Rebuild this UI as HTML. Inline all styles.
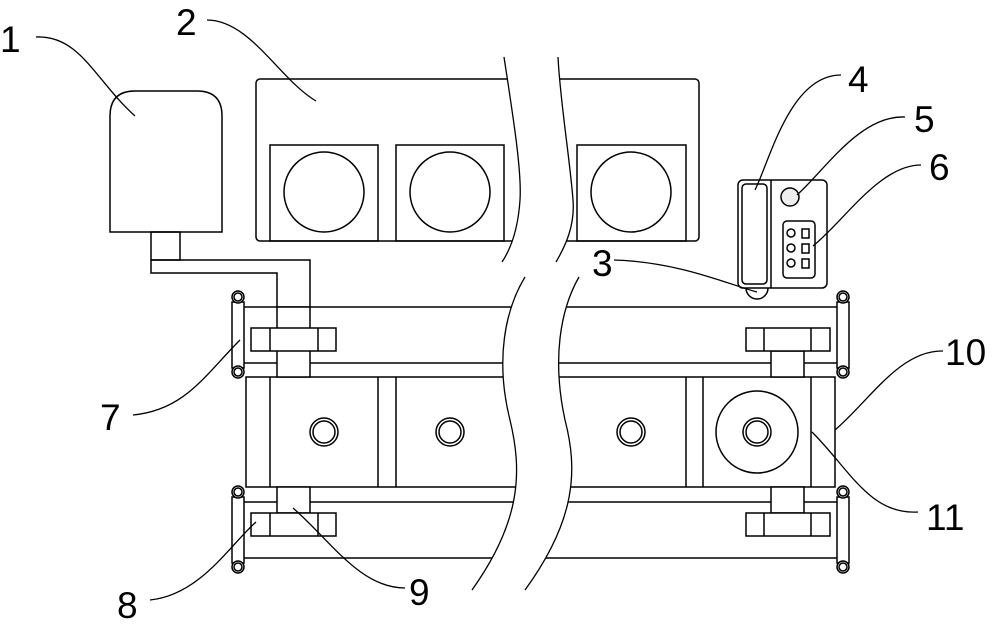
<!DOCTYPE html>
<html><head><style>
html,body{margin:0;padding:0;background:#fff;}
svg{display:block;}
text{font-family:"Liberation Sans",sans-serif;font-size:37px;fill:#000;}
</style></head><body>
<svg width="1000" height="624" viewBox="0 0 1000 624" xmlns="http://www.w3.org/2000/svg">
<g fill="none" stroke="#000" stroke-width="1.5">
<!-- tank 1 -->
<path d="M110,232 V116 Q110,91 135,91 H197 Q222,91 222,116 V232 Z"/>
<rect x="151" y="232" width="29" height="28"/>
<path d="M151,260 H310 V307 M151,260 V273 H277 V307"/>
<!-- panel 2 -->
<rect x="256" y="79" width="443" height="162" rx="4"/>
<rect x="270" y="145" width="108" height="96"/>
<rect x="396" y="145" width="108" height="96"/>
<rect x="577" y="145" width="109" height="96"/>
<circle cx="324" cy="192" r="40"/>
<circle cx="450" cy="192" r="40"/>
<circle cx="631" cy="192" r="40"/>
<!-- phone device -->
<rect x="738" y="180" width="89" height="108" rx="5"/>
<line x1="771" y1="180" x2="771" y2="288"/>
<rect x="742" y="184" width="25" height="100" rx="4"/>
<path d="M746,288 A11,11 0 0 0 768,288"/>
<circle cx="790" cy="197" r="9" fill="#eee" stroke-dasharray="none"/>
<rect x="783" y="221" width="32" height="57" rx="4"/>
<circle cx="791" cy="233" r="4"/><circle cx="791" cy="248" r="4"/><circle cx="791" cy="263" r="4"/>
<rect x="802" y="229" width="7" height="9"/><rect x="802" y="244" width="7" height="9"/><rect x="802" y="259" width="7" height="9"/>
<!-- upper frame -->
<line x1="244" y1="307" x2="837" y2="307"/>
<line x1="244" y1="363" x2="837" y2="363"/>
<rect x="232" y="302" width="12" height="66"/>
<rect x="837" y="302" width="12" height="66"/>
<!-- box section -->
<rect x="246" y="377" width="589" height="110"/>
<line x1="270" y1="377" x2="270" y2="487"/>
<line x1="378" y1="377" x2="378" y2="487"/>
<line x1="396" y1="377" x2="396" y2="487"/>
<line x1="686" y1="377" x2="686" y2="487"/>
<line x1="703" y1="377" x2="703" y2="487"/>
<line x1="811" y1="377" x2="811" y2="487"/>
<!-- lower frame -->
<line x1="244" y1="502" x2="837" y2="502"/>
<line x1="244" y1="558" x2="837" y2="558"/>
<rect x="232" y="497" width="12" height="66"/>
<rect x="837" y="497" width="12" height="66"/>
<!-- shafts -->
<rect x="277" y="307" width="33" height="70" fill="#fff"/>
<rect x="277" y="487" width="33" height="26" fill="#fff"/>
<rect x="771" y="351" width="33" height="26" fill="#fff"/>
<rect x="771" y="487" width="33" height="26" fill="#fff"/>
<!-- brackets -->
<rect x="251" y="328" width="85" height="23" fill="#fff"/><line x1="270" y1="328" x2="270" y2="351"/><line x1="318" y1="328" x2="318" y2="351"/>
<rect x="251" y="513" width="85" height="23" fill="#fff"/><line x1="270" y1="513" x2="270" y2="536"/><line x1="318" y1="513" x2="318" y2="536"/>
<rect x="746" y="328" width="84" height="23" fill="#fff"/><line x1="764" y1="328" x2="764" y2="351"/><line x1="811" y1="328" x2="811" y2="351"/>
<rect x="746" y="513" width="84" height="23" fill="#fff"/><line x1="764" y1="513" x2="764" y2="536"/><line x1="811" y1="513" x2="811" y2="536"/>
<!-- lugs -->
<g fill="#fff">
<circle cx="238" cy="297" r="6"/><circle cx="238" cy="372" r="6"/><circle cx="238" cy="492" r="6"/><circle cx="238" cy="567" r="6"/>
<circle cx="843" cy="297" r="6"/><circle cx="843" cy="372" r="6"/><circle cx="843" cy="492" r="6"/><circle cx="843" cy="567" r="6"/>
</g>
<g>
<circle cx="238" cy="297" r="4"/><circle cx="238" cy="372" r="4"/><circle cx="238" cy="492" r="4"/><circle cx="238" cy="567" r="4"/>
<circle cx="843" cy="297" r="4"/><circle cx="843" cy="372" r="4"/><circle cx="843" cy="492" r="4"/><circle cx="843" cy="567" r="4"/>
</g>
<!-- hubs -->
<circle cx="757" cy="432" r="41"/>
<circle cx="324" cy="432" r="14"/><circle cx="324" cy="432" r="11"/>
<circle cx="450" cy="432" r="14"/><circle cx="450" cy="432" r="11"/>
<circle cx="631" cy="432" r="14"/><circle cx="631" cy="432" r="11"/>
<circle cx="757" cy="432" r="14"/><circle cx="757" cy="432" r="11"/>
</g>
<!-- break masks -->
<path d="M504,57 C512,110 522,170 520,200 C518,230 510,250 502,262 L556,262 C566,245 575,225 573,200 C570,160 560,100 558,57 Z" fill="#fff"/>
<path d="M525,277 C505,310 495,360 510,420 C522,470 522,520 472,590 L525,590 C576,520 578,470 565,420 C552,360 560,310 579,277 Z" fill="#fff"/>
<g fill="none" stroke="#000" stroke-width="1.3">
<path d="M504,57 C512,110 522,170 520,200 C518,230 510,250 502,262"/>
<path d="M558,57 C560,100 570,160 573,200 C575,225 566,245 556,262"/>
<path d="M525,277 C505,310 495,360 510,420 C522,470 522,520 472,590"/>
<path d="M579,277 C560,310 552,360 565,420 C578,470 576,520 525,590"/>
<!-- leaders -->
<path d="M36,37 C80,35 95,80 135,116"/>
<path d="M207,20 C250,20 280,80 316,101"/>
<path d="M841,75 C790,75 770,160 755,190"/>
<path d="M905,117 C860,115 825,170 797,195"/>
<path d="M921,165 C880,165 845,220 813,246"/>
<path d="M614,260 C680,262 730,285 757,292"/>
<path d="M133,415 C185,410 205,375 240,340"/>
<path d="M150,600 C200,595 230,545 256,522"/>
<path d="M405,588 C360,588 330,540 293,508"/>
<path d="M943,351 C900,350 870,400 835,430"/>
<path d="M918,512 C870,515 850,470 812,432"/>
</g>
<text x="0" y="52">1</text>
<text x="176" y="35">2</text>
<text x="592" y="276">3</text>
<text x="848" y="92">4</text>
<text x="914" y="132">5</text>
<text x="929" y="180">6</text>
<text x="100" y="430">7</text>
<text x="117" y="618">8</text>
<text x="409" y="605">9</text>
<text x="945" y="365">10</text>
<text x="926" y="530">11</text>
</svg>
</body></html>
